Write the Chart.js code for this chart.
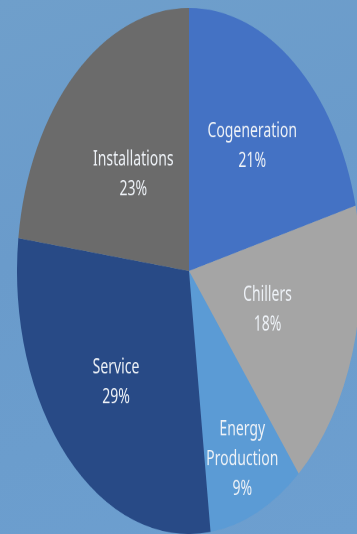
<!DOCTYPE html>
<html>
<head>
<meta charset="utf-8">
<script src="https://cdn.jsdelivr.net/npm/chart.js@4"></script>
<style>
    html, body {
        margin: 0;
        padding: 0;
        width: 357px;
        height: 534px;
        overflow: hidden;
        background: linear-gradient(160deg, #6f9fcb 0%, #6a9bcb 40%, #6b9dcd 70%, #6d9fd0 100%);
    }
    #wrap {
        position: absolute;
        left: 17px;
        top: 8px;
        width: 344px;
        height: 344px;
        transform: scaleY(1.529);
        transform-origin: 0 0;
    }
</style>
</head>
<body>
<div id="wrap"><canvas id="pieChart"></canvas></div>
<script>
const labels = ['Cogeneration', 'Chillers', 'Energy Production', 'Service', 'Installations'];
const labelLines = [['Cogeneration'], ['Chillers'], ['Energy', 'Production'], ['Service'], ['Installations']];
const shares = [21, 18, 9, 29, 23];
const colors = ['#4472c4', '#a5a5a5', '#5b9bd5', '#284a86', '#6b6b6b'];

document.addEventListener('DOMContentLoaded', function() {
    const ctx = document.getElementById('pieChart').getContext('2d');

    // draws "name / xx%" inside each slice
    const sliceLabels = {
        id: 'sliceLabels',
        afterDatasetsDraw(chart, args, opts) {
            const c = chart.ctx;
            const meta = chart.getDatasetMeta(0);
            c.save();
            c.fillStyle = opts.color;
            c.font = opts.font;
            c.textAlign = 'center';
            c.textBaseline = 'middle';
            meta.data.forEach((arc, i) => {
                const mid = (arc.startAngle + arc.endAngle) / 2;
                const r = arc.outerRadius * opts.radius[i];
                const x = arc.x + Math.cos(mid) * r;
                const y = arc.y + Math.sin(mid) * r;
                const lines = labelLines[i].concat([shares[i] + '%']);
                const top = y - (lines.length - 1) * opts.lineHeight / 2;
                lines.forEach((t, j) => c.fillText(t, x, top + j * opts.lineHeight));
            });
            c.restore();
        }
    };

    new Chart(ctx, {
        type: 'pie',
        data: {
            labels: labels,
            datasets: [{
                data: shares,
                backgroundColor: colors,
                borderWidth: 0
            }]
        },
        options: {
            responsive: true,
            maintainAspectRatio: true,
            animation: false,
            devicePixelRatio: 2,
            layout: { padding: 0 },
            plugins: {
                legend: { display: false },
                tooltip: { enabled: false },
                sliceLabels: {
                    color: '#eef2f7',
                    font: '14px "Noto Sans"',
                    lineHeight: 19.5,
                    radius: [0.6, 0.48, 0.78, 0.6, 0.49]
                }
            }
        },
        plugins: [sliceLabels]
    });
});
</script>
</body>
</html>
